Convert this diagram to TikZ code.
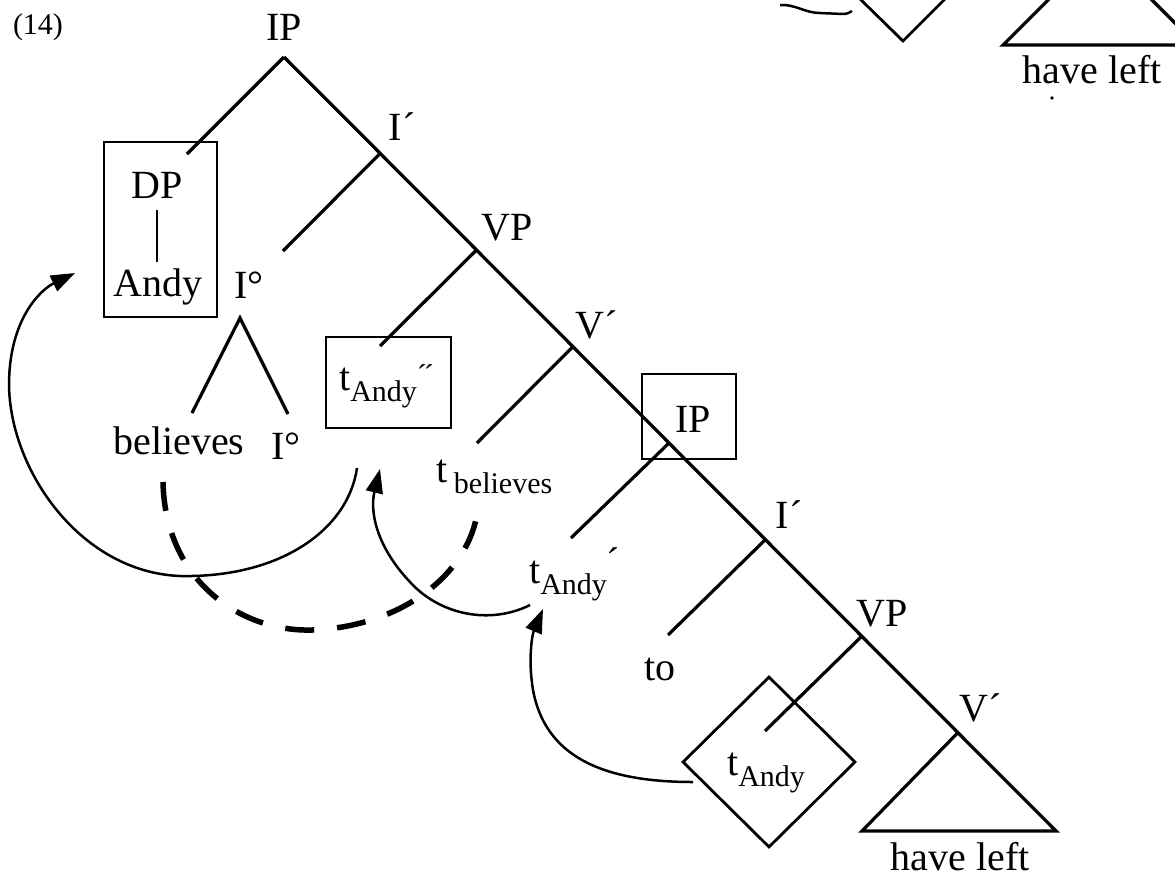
\documentclass[tikz,border=0pt]{standalone}
\usepackage{fontspec}
\setmainfont{Liberation Serif}
\usetikzlibrary{arrows.meta,shapes.geometric}
\newcommand\tsub[1]{\raisebox{-0.28em}{\fontsize{30}{32}\selectfont #1}}
\newcommand\acc{{\char"00B4}}
\begin{document}
\begin{tikzpicture}[x=1pt,y=-1pt,
  lbl/.style={font=\fontsize{40}{44}\selectfont, inner sep=0pt},
  tree/.style={line width=3.2pt},
  box/.style={draw, line width=2.8pt, inner sep=0pt},
  mv/.style={line width=2.5pt, -{Triangle[length=24pt,width=17pt]}},
  dashmv/.style={line width=5.5pt, dash pattern=on 29pt off 23pt}]
\useasboundingbox (0,0) rectangle (1175,879);
\clip (0,0) rectangle (1175,879);

% spine coordinates
\coordinate (n0) at (284,57);
\coordinate (n1) at (380,153.5);
\coordinate (n2) at (476.5,250);
\coordinate (n3) at (573,346.5);
\coordinate (n4) at (669,443);
\coordinate (n5) at (765.5,539.5);
\coordinate (n6) at (862,636);
\coordinate (n7) at (958,732.5);
\coordinate (tr) at (1056,831);
\coordinate (tl) at (862,831);
% left branch ends
\coordinate (b0) at (187,154);
\coordinate (b1) at (283,251);
\coordinate (b2) at (380,346);
\coordinate (b3) at (477,443);
\coordinate (b4) at (571,538);
\coordinate (b5) at (668,635);
\coordinate (b6) at (765,731);

\node[lbl, font=\fontsize{30}{32}\selectfont] (num) at (38,27) {(14)};

% tree lines
\draw[tree] (n0) -- (tr) -- (tl) -- (n7);
\draw[tree] (n0) -- (b0);
\draw[tree] (n1) -- (b1);
\draw[tree] (n2) -- (b2);
\draw[tree] (n3) -- (b3);
\draw[tree] (n4) -- (b4);
\draw[tree] (n5) -- (b5);
\draw[tree] (n6) -- (b6);

% labels
\node[lbl] (ip0) at (284,27) {IP};
\node[lbl] (ib1) at (402,127) {I\acc};
\node[lbl] (vp1) at (507,228) {VP};
\node[lbl] (vb1) at (597,325) {V\acc};
\node[lbl] (ib2) at (789,515) {I\acc};
\node[lbl] (vp2) at (882,614) {VP};
\node[lbl] (vb2) at (981,708) {V\acc};
\node[lbl] (hl) at (960,857) {have left};
\node[lbl] (to) at (660,669) {to};

% DP box
\node[box, minimum width=113pt, minimum height=175pt] (dpbox) at (160.5,229.5) {};
\node[lbl] (dp) at (157,185) {DP};
\node[lbl] (andy) at (158,287) {Andy};
\draw[line width=2.8pt] (157,210) -- (157,262);

% I0 subtree
\node[lbl] (i0) at (249,285) {I\textdegree};
\coordinate (ia) at (240,318);
\coordinate (il) at (192,413);
\coordinate (ir) at (288,414);
\draw[tree] (il) -- (ia) -- (ir);
\node[lbl] (bel) at (179,441) {believes};
\node[lbl] (i0b) at (286,446) {I\textdegree};

% t_Andy'' box
\node[box, minimum width=125pt, minimum height=91pt] (tbox) at (388.5,382.5) {};
\node[lbl, anchor=base west] (tpp) at (339,390) {t\tsub{Andy}\raisebox{0.12em}{\fontsize{30}{30}\selectfont\acc\kern-3pt\acc}};

% t_believes
\node[lbl, anchor=base west] (tbel) at (436,482) {t\,\tsub{believes}};

% IP box
\node[box, minimum width=94pt, minimum height=85pt] (ipbox) at (689,416.5) {};
\node[lbl] (ip1) at (693,419) {IP};

% t_Andy'
\node[lbl, anchor=base west] (tp) at (529,583) {t\tsub{Andy}\raisebox{0.2em}{\acc}};

% diamond
\node[draw, diamond, line width=2.8pt, inner sep=0pt, minimum width=173pt, minimum height=171pt] (diam) at (769,762) {};
\node[lbl, anchor=base west] (td) at (727,775) {t\tsub{Andy}};

% movement arrows
\coordinate (s1) at (357,468);
\coordinate (e1) at (75,273);
\draw[mv] (s1) .. controls (348,530) and (280,578) .. (180,576)
  .. controls (80,572) and (10,470) .. (9,385)
  .. controls (9,320) and (40,290) .. (e1);

\coordinate (s2) at (530,605);
\coordinate (e2) at (380,469);
\draw[mv] (s2) .. controls (490,625) and (440,615) .. (410,582)
  .. controls (375,545) and (370,510) .. (e2);

\coordinate (s3) at (693,782);
\coordinate (e3) at (543,609);
\draw[mv] (s3) .. controls (600,782) and (545,755) .. (533,690)
  .. controls (528,660) and (532,635) .. (e3);

% dashed
\coordinate (d1) at (163,482);
\coordinate (d2) at (478,508);
\draw[dashmv] (d1) .. controls (165,580) and (240,632) .. (312,630) .. controls (400,627) and (470,575) .. (d2);

% top-right fragment of another tree
\draw[line width=2.5pt] (780,5) .. controls (795,4) and (805,13) .. (820,13) -- (843,14) .. controls (848,14) and (850,12) .. (852,11);
\coordinate (fdl) at (857,-4);
\coordinate (fdb) at (903,41);
\coordinate (fdr) at (949,-5);
\draw[line width=2.8pt] (fdl) -- (fdb) -- (fdr);
\coordinate (ftl) at (1003,45);
\coordinate (fta) at (1100,-52);
\coordinate (ftr) at (1197,45);
\draw[tree] (ftl) -- (fta) -- (ftr) -- cycle;
\node[lbl] (hl2) at (1092,70) {have left};
\fill (1052,98) circle (1.8pt);
\end{tikzpicture}
\end{document}
